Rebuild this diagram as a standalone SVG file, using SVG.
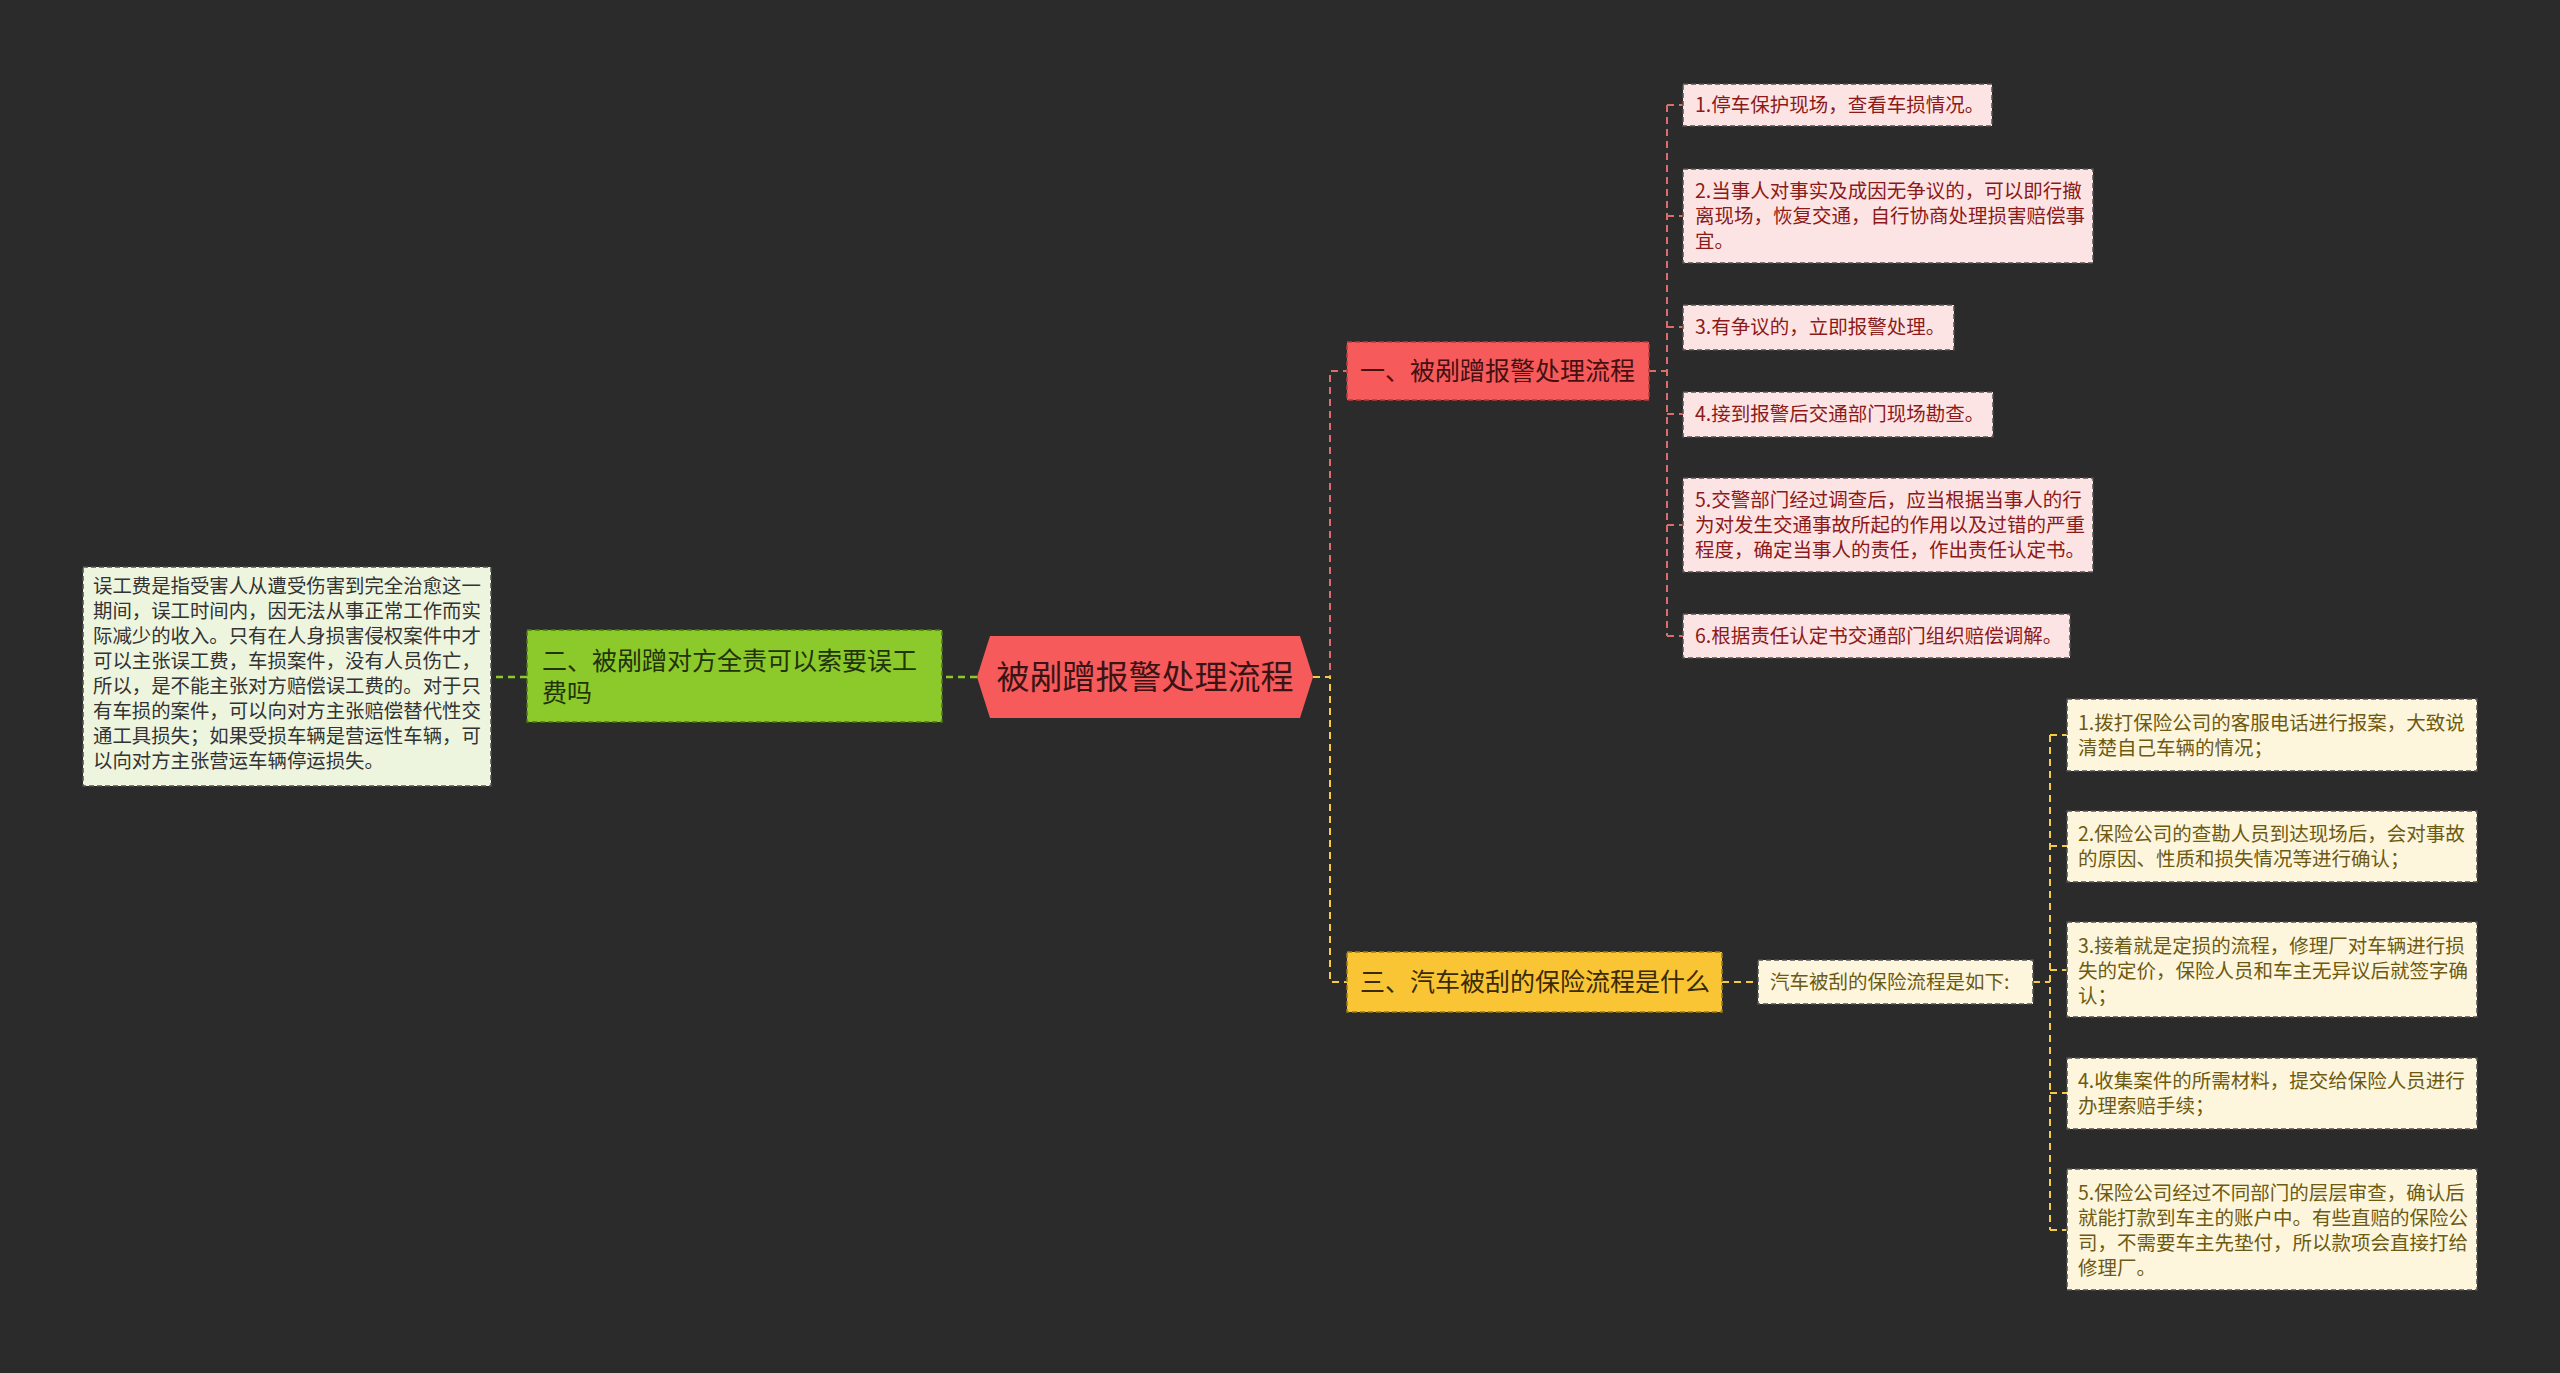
<svg xmlns="http://www.w3.org/2000/svg" width="2560" height="1373" viewBox="0 0 2560 1373">
<style>
text{font-family:"Noto Sans CJK SC","Noto Sans",sans-serif}
.red{fill:#f65a5b;stroke:#b83c3c;stroke-width:1.5;stroke-dasharray:5 3}
.pink{fill:#fde4e4;stroke:#505050;stroke-width:1.5;stroke-dasharray:5 3}
.yel{fill:#fdf6dd;stroke:#505050;stroke-width:1.5;stroke-dasharray:5 3}
.grn{fill:#8cc92b;stroke:#4d7a14;stroke-width:1.5;stroke-dasharray:5 3}
.org{fill:#f9c535;stroke:#a07c14;stroke-width:1.5;stroke-dasharray:5 3}
.det{fill:#eef5df;stroke:#505050;stroke-width:1.5;stroke-dasharray:5 3}
.tp{font-size:19.5px;fill:#8b1a1a}
.ty{font-size:19.5px;fill:#6d5a12}
.td{font-size:19.4px;fill:#333}
.lr{fill:none;stroke:#e06b6b;stroke-width:2;stroke-dasharray:7 5}
.ly{fill:none;stroke:#f5cb45;stroke-width:2;stroke-dasharray:7 5}
.lg{fill:none;stroke:#8cc92b;stroke-width:2.5;stroke-dasharray:7 5}
</style>
<rect width="2560" height="1373" fill="#2b2b2b"/>
<g id="connectors">
<path class="lr" d="M1313,677 H1330 V371 H1347"/>
<path class="ly" d="M1313,677 H1330 V982 H1347"/>
<path class="lg" d="M977,677 H943"/>
<path class="lg" d="M527,677 H491"/>
<path class="lr" d="M1649,371 H1667 M1667,105 V636 M1667,105 H1683 M1667,216 H1683 M1667,327 H1683 M1667,414 H1683 M1667,525 H1683 M1667,636 H1683"/>
<path class="ly" d="M1722,982 H1758"/>
<path class="ly" d="M2033,982 H2050 M2050,735 V1230 M2050,735 H2067 M2050,846 H2067 M2050,970 H2067 M2050,1093 H2067 M2050,1230 H2067"/>
</g>
<g id="root">
<polygon points="977,677 990,636 1300,636 1313,677 1300,718 990,718" fill="#f65a5b"/>
<text x="1145" y="689" font-size="33" fill="#3a1414" text-anchor="middle">被剐蹭报警处理流程</text>
</g>
<g id="n1">
<rect class="red" x="1347" y="342" width="302" height="58"/>
<text x="1360" y="380" font-size="25" fill="#451010">一、被剐蹭报警处理流程</text>
</g>
<g id="n1c1">
<rect class="pink" x="1683" y="84" width="309" height="42"/>
<text class="tp" x="1695" y="112">1.停车保护现场，查看车损情况。</text>
</g>
<g id="n1c2">
<rect class="pink" x="1683" y="169" width="410" height="94"/>
<text class="tp" x="1695" y="198">2.当事人对事实及成因无争议的，可以即行撤<tspan x="1695" y="223">离现场，恢复交通，自行协商处理损害赔偿事</tspan><tspan x="1695" y="248">宜。</tspan></text>
</g>
<g id="n1c3">
<rect class="pink" x="1683" y="305" width="271" height="45"/>
<text class="tp" x="1695" y="334">3.有争议的，立即报警处理。</text>
</g>
<g id="n1c4">
<rect class="pink" x="1683" y="392" width="310" height="45"/>
<text class="tp" x="1695" y="421">4.接到报警后交通部门现场勘查。</text>
</g>
<g id="n1c5">
<rect class="pink" x="1683" y="478" width="410" height="94"/>
<text class="tp" x="1695" y="507">5.交警部门经过调查后，应当根据当事人的行<tspan x="1695" y="532">为对发生交通事故所起的作用以及过错的严重</tspan><tspan x="1695" y="557">程度，确定当事人的责任，作出责任认定书。</tspan></text>
</g>
<g id="n1c6">
<rect class="pink" x="1683" y="614" width="387" height="44"/>
<text class="tp" x="1695" y="643">6.根据责任认定书交通部门组织赔偿调解。</text>
</g>
<g id="n2">
<rect class="grn" x="527" y="630" width="415" height="92"/>
<text x="542" y="670" font-size="25" fill="#22330a">二、被剐蹭对方全责可以索要误工<tspan x="542" y="702">费吗</tspan></text>
</g>
<g id="n2c1">
<rect class="det" x="83" y="567" width="408" height="219"/>
<text class="td" x="93" y="593">误工费是指受害人从遭受伤害到完全治愈这一<tspan x="93" y="618">期间，误工时间内，因无法从事正常工作而实</tspan><tspan x="93" y="643">际减少的收入。只有在人身损害侵权案件中才</tspan><tspan x="93" y="668">可以主张误工费，车损案件，没有人员伤亡，</tspan><tspan x="93" y="693">所以，是不能主张对方赔偿误工费的。对于只</tspan><tspan x="93" y="718">有车损的案件，可以向对方主张赔偿替代性交</tspan><tspan x="93" y="743">通工具损失；如果受损车辆是营运性车辆，可</tspan><tspan x="93" y="768">以向对方主张营运车辆停运损失。</tspan></text>
</g>
<g id="n3">
<rect class="org" x="1347" y="952" width="375" height="60"/>
<text x="1360" y="991" font-size="25" fill="#3a2a05">三、汽车被刮的保险流程是什么</text>
</g>
<g id="n3c0">
<rect class="yel" x="1758" y="960" width="275" height="44"/>
<text class="ty" x="1770" y="989">汽车被刮的保险流程是如下:</text>
</g>
<g id="n3c1">
<rect class="yel" x="2067" y="699" width="410" height="72"/>
<text class="ty" x="2078" y="730">1.拨打保险公司的客服电话进行报案，大致说<tspan x="2078" y="755">清楚自己车辆的情况；</tspan></text>
</g>
<g id="n3c2">
<rect class="yel" x="2067" y="811" width="410" height="71"/>
<text class="ty" x="2078" y="841">2.保险公司的查勘人员到达现场后，会对事故<tspan x="2078" y="866">的原因、性质和损失情况等进行确认；</tspan></text>
</g>
<g id="n3c3">
<rect class="yel" x="2067" y="922" width="410" height="95"/>
<text class="ty" x="2078" y="953">3.接着就是定损的流程，修理厂对车辆进行损<tspan x="2078" y="978">失的定价，保险人员和车主无异议后就签字确</tspan><tspan x="2078" y="1003">认；</tspan></text>
</g>
<g id="n3c4">
<rect class="yel" x="2067" y="1058" width="410" height="71"/>
<text class="ty" x="2078" y="1088">4.收集案件的所需材料，提交给保险人员进行<tspan x="2078" y="1113">办理索赔手续；</tspan></text>
</g>
<g id="n3c5">
<rect class="yel" x="2067" y="1169" width="410" height="121"/>
<text class="ty" x="2078" y="1200">5.保险公司经过不同部门的层层审查，确认后<tspan x="2078" y="1225">就能打款到车主的账户中。有些直赔的保险公</tspan><tspan x="2078" y="1250">司，不需要车主先垫付，所以款项会直接打给</tspan><tspan x="2078" y="1275">修理厂。</tspan></text>
</g>
</svg>
